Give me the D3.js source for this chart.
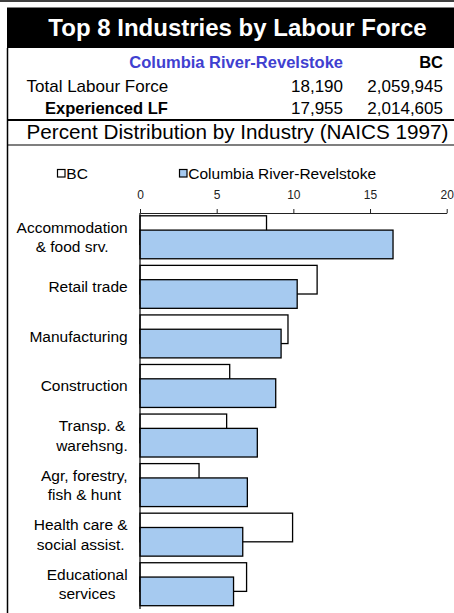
<!DOCTYPE html>
<html>
<head>
<meta charset="utf-8">
<script src="https://cdn.jsdelivr.net/npm/d3@7"></script>
<style>
  body { margin: 0; background: #fff; }
  svg { display: block; font-family: "Liberation Sans", Arial, sans-serif; }
</style>
</head>
<body>
<div id="chart"></div>
<script>
// Data
const industries = [
  ["Accommodation", "& food srv."],
  ["Retail trade"],
  ["Manufacturing"],
  ["Construction"],
  ["Transp. &", "warehsng."],
  ["Agr, forestry,", "fish & hunt"],
  ["Health care &", "social assist."],
  ["Educational", "services"]
];
const bcValues = [8.25, 11.55, 9.65, 5.85, 5.65, 3.85, 9.95, 6.95];
const crrValues = [16.5, 10.25, 9.2, 8.85, 7.65, 7.0, 6.7, 6.1];
const xTicks = [0, 5, 10, 15, 20];
const seriesNames = ["BC", "Columbia River-Revelstoke"];
const summaryRows = [
  { label: "Total Labour Force", crr: "18,190", bc: "2,059,945", bold: false },
  { label: "Experienced LF", crr: "17,955", bc: "2,014,605", bold: true }
];

const W = 454, H = 613;
const blue = "#a6caf0";

const svg = d3.select("#chart")
  .append("svg")
  .attr("width", W)
  .attr("height", H);

// header frame
svg.append("line")
  .attr("x1", 0).attr("x2", W).attr("y1", 1).attr("y2", 1)
  .attr("stroke", "#000").attr("stroke-width", 1.5);

svg.append("rect")
  .attr("x", 7).attr("y", 7.5).attr("width", W - 7).attr("height", 40.5)
  .attr("fill", "#000");

svg.append("text")
  .attr("x", 237.5).attr("y", 36)
  .attr("text-anchor", "middle")
  .attr("fill", "#fff")
  .attr("font-size", 24).attr("font-weight", "bold")
  .text("Top 8 Industries by Labour Force");

// left border running down the whole panel
svg.append("line")
  .attr("x1", 7.5).attr("x2", 7.5).attr("y1", 48).attr("y2", H)
  .attr("stroke", "#000").attr("stroke-width", 1.5);

// summary table
svg.append("text")
  .attr("x", 343).attr("y", 67.5)
  .attr("text-anchor", "end")
  .attr("fill", "#4040d0")
  .attr("font-size", 16.5).attr("font-weight", "bold")
  .text(seriesNames[1]);

svg.append("text")
  .attr("x", 443).attr("y", 67.5)
  .attr("text-anchor", "end")
  .attr("font-size", 16.5).attr("font-weight", "bold")
  .text(seriesNames[0]);

summaryRows.forEach((r, i) => {
  const y = 91.5 + i * 22;
  svg.append("text")
    .attr("x", r.bold ? 45 : 26.5).attr("y", y)
    .attr("font-size", r.bold ? 16.5 : 17)
    .attr("font-weight", r.bold ? "bold" : "normal")
    .text(r.label);
  svg.append("text")
    .attr("x", 343).attr("y", y)
    .attr("text-anchor", "end").attr("font-size", 17)
    .text(r.crr);
  svg.append("text")
    .attr("x", 443).attr("y", y)
    .attr("text-anchor", "end").attr("font-size", 17)
    .text(r.bc);
});

svg.append("line")
  .attr("x1", 7).attr("x2", W).attr("y1", 120).attr("y2", 120)
  .attr("stroke", "#000").attr("stroke-width", 2);

svg.append("text")
  .attr("x", 237.5).attr("y", 138.5)
  .attr("text-anchor", "middle")
  .attr("font-size", 20.7)
  .text("Percent Distribution by Industry (NAICS 1997)");

svg.append("line")
  .attr("x1", 7).attr("x2", W).attr("y1", 145).attr("y2", 145)
  .attr("stroke", "#000").attr("stroke-width", 1.2);

// legend
const legend = [
  { name: seriesNames[0], fill: "#fff", x: 57.5 },
  { name: seriesNames[1], fill: blue, x: 179.5 }
];
legend.forEach(l => {
  svg.append("rect")
    .attr("x", l.x).attr("y", 169.5).attr("width", 7.5).attr("height", 7.5)
    .attr("fill", l.fill).attr("stroke", "#000").attr("stroke-width", 1.2);
  svg.append("text")
    .attr("x", l.x + 8.8).attr("y", 178.8)
    .attr("font-size", 15.5)
    .text(l.name);
});

// scales
const x = d3.scaleLinear().domain([0, 20]).range([140, 446.7]);

const step = (609 - 212.5) / industries.length;
const gap = 6.6;
const y = d3.scaleBand()
  .domain(d3.range(industries.length))
  .range([212.5, 609])
  .paddingInner(gap / step)
  .paddingOuter(gap / 2 / step);

const barH = y.bandwidth() / 1.5;

// top value axis
const xAxis = svg.append("g")
  .attr("transform", "translate(0,213)")
  .call(d3.axisTop(x).tickValues(xTicks).tickSize(4).tickSizeOuter(0).tickPadding(10));
xAxis.select(".domain").attr("stroke", "#222").attr("stroke-width", 1.2);
xAxis.selectAll(".tick line").attr("stroke", "#222").attr("stroke-width", 1);
xAxis.selectAll(".tick text")
  .attr("fill", "#222")
  .attr("font-size", 12)
  .attr("font-family", "Liberation Sans, Arial, sans-serif");

// BC bars (behind, overlapped 50%)
svg.selectAll("rect.bc")
  .data(bcValues)
  .enter()
  .append("rect")
  .attr("class", "bc")
  .attr("x", x(0))
  .attr("y", (d, i) => y(i))
  .attr("width", d => x(d) - x(0))
  .attr("height", barH)
  .attr("fill", "#fff")
  .attr("stroke", "#000")
  .attr("stroke-width", 1.3);

svg.selectAll("rect.crr")
  .data(crrValues)
  .enter()
  .append("rect")
  .attr("class", "crr")
  .attr("x", x(0))
  .attr("y", (d, i) => y(i) + barH / 2)
  .attr("width", d => x(d) - x(0))
  .attr("height", barH)
  .attr("fill", blue)
  .attr("stroke", "#000")
  .attr("stroke-width", 1.3);

// category axis line
svg.append("line")
  .attr("x1", x(0)).attr("x2", x(0)).attr("y1", 213).attr("y2", 609)
  .attr("stroke", "#000").attr("stroke-width", 1.2);

// category labels, block right-aligned, lines centred
const lineH = 19.5;
const labelRight = 127.7;
industries.forEach((lines, i) => {
  const cy = y(i) + y.bandwidth() / 2;
  const g = svg.append("g");
  const texts = lines.map((t, j) => g.append("text")
    .attr("font-size", 15.5)
    .attr("text-anchor", "middle")
    .attr("y", cy + (j - (lines.length - 1) / 2) * lineH + 5.4)
    .text(t));
  const maxW = d3.max(texts, t => t.node().getComputedTextLength());
  texts.forEach(t => t.attr("x", labelRight - maxW / 2));
});
</script>
</body>
</html>
